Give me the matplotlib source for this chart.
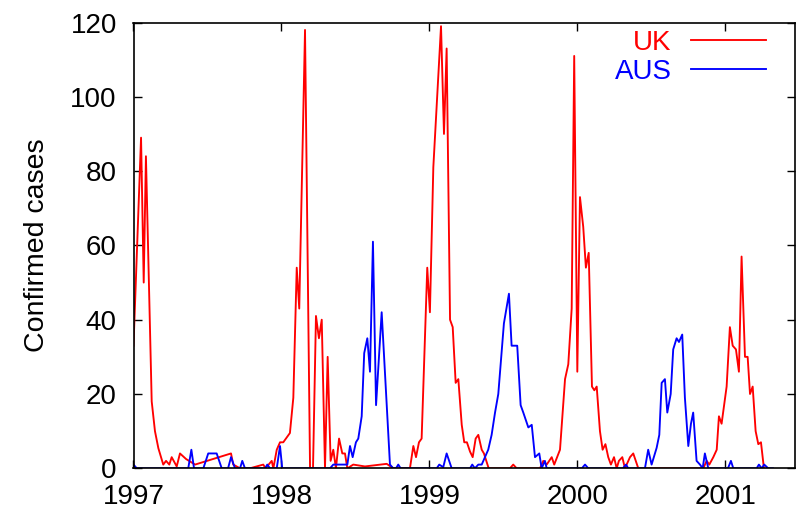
import matplotlib
matplotlib.use("Agg")
import matplotlib.pyplot as plt

# ---- data (decimal years, confirmed cases) ----
uk_years = [1997.000, 1997.051, 1997.069, 1997.084, 1997.123, 1997.145, 1997.168, 1997.201,
            1997.220, 1997.242, 1997.258, 1997.292, 1997.314, 1997.355, 1997.416, 1997.659,
            1997.674, 1997.720, 1997.787, 1997.877, 1997.892, 1997.934, 1997.945, 1997.968,
            1997.990, 1998.012, 1998.057, 1998.080, 1998.103, 1998.120, 1998.159, 1998.193,
            1998.213, 1998.233, 1998.253, 1998.272, 1998.294, 1998.312, 1998.332, 1998.350,
            1998.368, 1998.389, 1998.411, 1998.429, 1998.445, 1998.485, 1998.564, 1998.711,
            1998.755, 1998.868, 1998.891, 1998.909, 1998.929, 1998.947, 1998.985, 1999.003,
            1999.026, 1999.078, 1999.098, 1999.116, 1999.139, 1999.157, 1999.177, 1999.195,
            1999.218, 1999.235, 1999.253, 1999.274, 1999.292, 1999.312, 1999.330, 1999.353,
            1999.368, 1999.400, 1999.544, 1999.566, 1999.589, 1999.747, 1999.769, 1999.792,
            1999.826, 1999.843, 1999.882, 1999.916, 1999.938, 1999.961, 1999.978, 1999.999,
            2000.017, 2000.039, 2000.057, 2000.076, 2000.098, 2000.114, 2000.130, 2000.152,
            2000.170, 2000.189, 2000.208, 2000.226, 2000.247, 2000.265, 2000.280, 2000.303,
            2000.321, 2000.355, 2000.377, 2000.411, 2000.850, 2000.873, 2000.891, 2000.918,
            2000.941, 2000.956, 2000.974, 2001.008, 2001.030, 2001.049, 2001.071, 2001.091,
            2001.109, 2001.132, 2001.150, 2001.166, 2001.184, 2001.204, 2001.222, 2001.240,
            2001.260]
uk_cases = [33, 89, 50, 84, 18, 10, 5.4, 1,
            2, 1, 3, 0.5, 4, 2.5, 1, 4,
            1, 0, 0, 1, 0, 2, 0, 5,
            7, 7, 9.5, 19, 54, 43, 118, 0,
            0, 41, 35, 40, 0, 30, 2, 5,
            0, 8, 4, 4, 0, 1, 0.5, 1.2,
            0, 0, 6, 3, 7, 8, 54, 42,
            81, 119, 90, 113, 40, 38, 23, 24,
            11.7, 7, 7, 4.5, 3, 8, 9, 5,
            4, 0, 0, 1, 0, 0, 2, 1,
            3, 1, 5, 24, 28, 43, 111, 26,
            73, 65, 54, 58, 22, 21, 22, 10,
            5, 6.5, 3, 1, 3, 0, 2, 3,
            0, 3, 4, 0, 0, 2, 1, 3,
            5, 14, 12, 22, 38, 33, 32, 26,
            57, 30, 30, 20, 22, 10, 6.5, 7,
            0]

aus_years = [1997.000, 1997.022, 1997.370, 1997.391, 1997.409, 1997.472, 1997.505, 1997.562,
             1997.596, 1997.639, 1997.659, 1997.686, 1997.720, 1997.735, 1997.753, 1997.889,
             1997.904, 1997.922, 1997.968, 1997.990, 1998.005, 1998.328, 1998.350, 1998.445,
             1998.463, 1998.481, 1998.503, 1998.519, 1998.542, 1998.559, 1998.580, 1998.598,
             1998.618, 1998.639, 1998.677, 1998.733, 1998.755, 1998.774, 1998.789, 1998.805,
             1999.049, 1999.066, 1999.093, 1999.116, 1999.150, 1999.274, 1999.289, 1999.307,
             1999.330, 1999.353, 1999.397, 1999.420, 1999.443, 1999.465, 1999.503, 1999.537,
             1999.555, 1999.593, 1999.616, 1999.634, 1999.668, 1999.691, 1999.713, 1999.742,
             1999.758, 1999.780, 1999.792, 2000.030, 2000.051, 2000.073, 2000.307, 2000.328,
             2000.343, 2000.456, 2000.478, 2000.501, 2000.535, 2000.553, 2000.569, 2000.591,
             2000.607, 2000.630, 2000.647, 2000.670, 2000.686, 2000.708, 2000.726, 2000.749,
             2000.767, 2000.782, 2000.805, 2000.828, 2000.846, 2000.861, 2000.884, 2001.017,
             2001.037, 2001.053, 2001.211, 2001.226, 2001.245, 2001.262, 2001.289, 2001.321]
aus_cases = [1, 0, 0, 5, 0, 0, 4, 4,
             0, 0, 3, 0, 0, 2, 0, 0,
             1, 0, 0, 6, 0, 0, 1, 1,
             6, 3, 7, 8, 14, 31, 35, 26,
             61, 17, 42, 1, 0, 0, 1, 0,
             0, 1, 0.3, 4, 0, 0, 1, 0,
             1, 1, 5, 9, 15, 20, 39, 47,
             33, 33, 17, 15, 11, 11.7, 3, 4,
             0, 2, 0, 0, 1, 0, 0, 1,
             0, 0, 5, 1, 5.5, 9, 23, 24,
             15, 20, 32, 35, 34, 36, 19, 6,
             12, 15, 2, 1, 0, 4, 0, 0,
             2, 0, 0, 1, 0, 1, 0, 0]

x_ticks = [1997, 1998, 1999, 2000, 2001]
y_ticks = [0, 20, 40, 60, 80, 100, 120]
series_labels = ["UK", "AUS"]

plt.rcParams['font.family'] = ['Liberation Sans', 'DejaVu Sans']

W, H = 810, 515
fig = plt.figure(figsize=(W / 100, H / 100), dpi=100)
ax = fig.add_axes([133.5 / W, 1 - 468.3 / H, (795 - 133.5) / W, (468.3 - 22.5) / H])

ax.plot(uk_years, uk_cases, color='#ff0000', lw=1.35, label=series_labels[0])
ax.plot(aus_years, aus_cases, color='#0000ff', lw=1.35, label=series_labels[1])

ax.set_xlim(1997, 2001.47)
ax.set_ylim(0, 120)
ax.set_xticks(x_ticks)
ax.set_xticklabels([str(t) for t in x_ticks])
ax.set_yticks(y_ticks)
ax.tick_params(direction='in', length=6, width=1, top=True, right=True,
               labelsize=20, colors='black')
ax.tick_params(axis='y', pad=12)
ax.tick_params(axis='x', pad=11)
for s in ax.spines.values():
    s.set_linewidth(1.2)
ax.set_ylabel("Confirmed cases", fontsize=20.5, labelpad=15)

leg = ax.legend(loc='upper right', bbox_to_anchor=(766 / W, 1 - 30 / H),
                bbox_transform=fig.transFigure, frameon=False, markerfirst=False,
                labelcolor='linecolor', fontsize=20, handlelength=2.7,
                handletextpad=0.7, labelspacing=0.1, borderpad=0, borderaxespad=0)

fig.savefig("out.png", dpi=100)
